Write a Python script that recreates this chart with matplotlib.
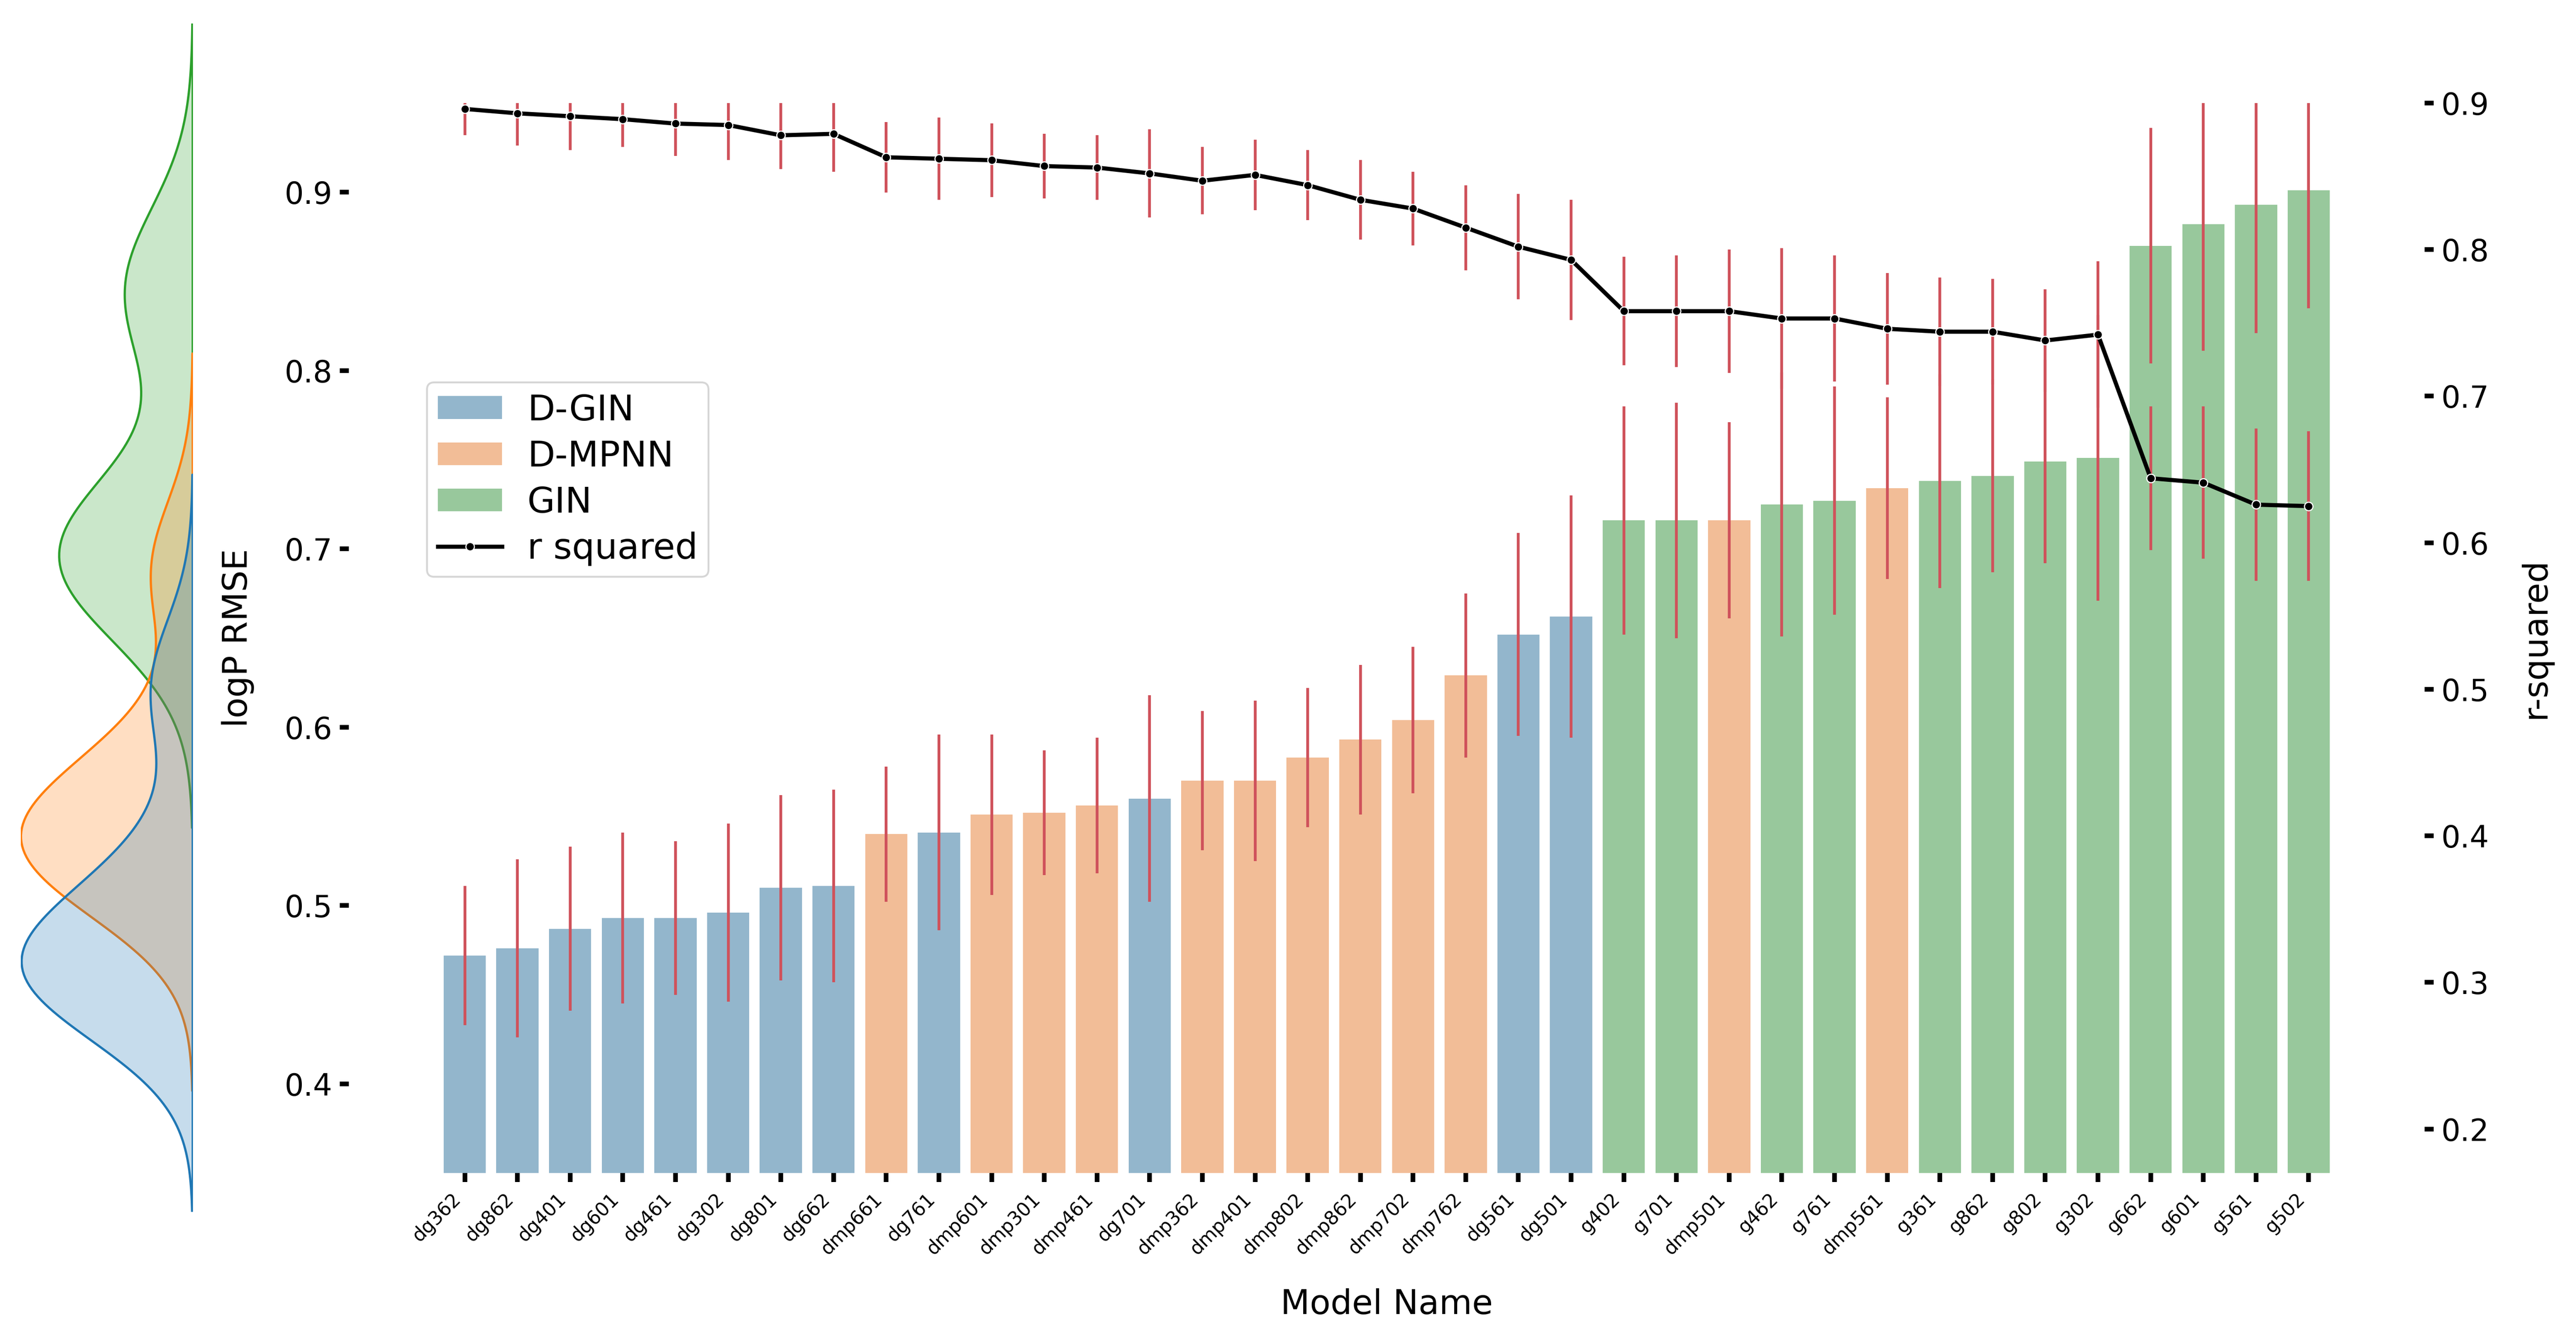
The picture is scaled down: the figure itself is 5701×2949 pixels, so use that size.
import numpy as np
import pandas as pd
import seaborn as sns
import matplotlib
matplotlib.use("Agg")
from matplotlib import pyplot as plt
from matplotlib.patches import Patch
from matplotlib.lines import Line2D

# model names, sorted by logP RMSE
models = ["dg362", "dg862", "dg401", "dg601", "dg461", "dg302", "dg801", "dg662",
          "dmp661", "dg761", "dmp601", "dmp301", "dmp461", "dg701", "dmp362", "dmp401",
          "dmp802", "dmp862", "dmp702", "dmp762", "dg561", "dg501", "g402", "g701",
          "dmp501", "g462", "g761", "dmp561", "g361", "g862", "g802", "g302",
          "g662", "g601", "g561", "g502"]

rmse = [0.472, 0.476, 0.487, 0.493, 0.493, 0.496, 0.510, 0.511,
        0.540, 0.541, 0.551, 0.552, 0.556, 0.560, 0.570, 0.570,
        0.583, 0.593, 0.604, 0.629, 0.652, 0.662, 0.716, 0.716,
        0.716, 0.725, 0.727, 0.734, 0.738, 0.741, 0.749, 0.751,
        0.870, 0.882, 0.893, 0.901]
rmse_err = [0.039, 0.050, 0.046, 0.048, 0.043, 0.050, 0.052, 0.054,
            0.038, 0.055, 0.045, 0.035, 0.038, 0.058, 0.039, 0.045,
            0.039, 0.042, 0.041, 0.046, 0.057, 0.068, 0.064, 0.066,
            0.055, 0.074, 0.064, 0.051, 0.060, 0.054, 0.057, 0.080,
            0.066, 0.071, 0.072, 0.066]

r2 = [0.896, 0.893, 0.891, 0.889, 0.886, 0.885, 0.878, 0.879,
      0.863, 0.862, 0.861, 0.857, 0.856, 0.852, 0.847, 0.851,
      0.844, 0.834, 0.828, 0.815, 0.802, 0.793, 0.758, 0.758,
      0.758, 0.753, 0.753, 0.746, 0.744, 0.744, 0.738, 0.742,
      0.644, 0.641, 0.626, 0.625]
r2_err = [0.018, 0.022, 0.023, 0.019, 0.022, 0.024, 0.023, 0.026,
          0.024, 0.028, 0.025, 0.022, 0.022, 0.030, 0.023, 0.024,
          0.024, 0.027, 0.025, 0.029, 0.036, 0.041, 0.037, 0.038,
          0.042, 0.048, 0.043, 0.038, 0.037, 0.036, 0.035, 0.050,
          0.049, 0.052, 0.052, 0.051]

families = ["D-GIN", "D-MPNN", "GIN"]
prefix = {"dmp": "D-MPNN", "dg": "D-GIN", "g": "GIN"}
bar_colors = {"D-GIN": "#93b6cc", "D-MPNN": "#f2bd97", "GIN": "#98c89c"}
kde_colors = {"D-GIN": "tab:blue", "D-MPNN": "tab:orange", "GIN": "tab:green"}
err_color = "#cf525b"


def family_of(name):
    for p in ("dmp", "dg", "g"):
        if name.startswith(p):
            return prefix[p]


fam = [family_of(m) for m in models]
df = pd.DataFrame({"model": models, "rmse": rmse, "family": fam})
x = np.arange(len(models))

W, H = 5701, 2949
fig = plt.figure(figsize=(W / 300, H / 300), dpi=300)

# main axes: bars (logP RMSE) + twin (r squared)
ax1 = fig.add_axes([772 / W, 1 - 2595 / H, (5366 - 772) / W, (2595 - 228) / H])
ax1.bar(x, rmse, width=0.8, color=[bar_colors[f] for f in fam], zorder=1)
ax1.errorbar(x, rmse, yerr=rmse_err, fmt="none", ecolor=err_color,
             elinewidth=1.5, capsize=0, zorder=2)
ax1.set_xlim(-2.2, 37.2)
ax1.set_ylim(0.35, 0.95)
ax1.set_yticks([0.4, 0.5, 0.6, 0.7, 0.8, 0.9])
ax1.set_xticks(x)
ax1.set_xticklabels(models, rotation=45, ha="right", fontsize=10)
ax1.set_xlabel("Model Name", fontsize=18, labelpad=16)
ax1.set_ylabel("logP RMSE", fontsize=18, labelpad=16)
ax1.tick_params(axis="y", length=4.8, width=2.5, labelsize=16, pad=4)
ax1.tick_params(axis="x", length=4.8, width=2.5, pad=4)

ax2 = ax1.twinx()
ax2.errorbar(x, r2, yerr=r2_err, fmt="none", ecolor=err_color,
             elinewidth=1.5, capsize=0, zorder=2)
ax2.plot(x, r2, color="k", lw=2.2, marker="o", ms=4.5, mfc="k",
         mec="w", mew=0.6, zorder=3)
ax2.set_ylim(0.17, 0.9)
ax2.set_yticks([0.2, 0.3, 0.4, 0.5, 0.6, 0.7, 0.8, 0.9])
ax2.set_ylabel("r-squared", fontsize=18, labelpad=16)
ax2.tick_params(axis="y", length=4.8, width=2.5, labelsize=16, pad=4)

for ax in (ax1, ax2):
    for s in ax.spines.values():
        s.set_visible(False)

handles = [Patch(facecolor=bar_colors[f], label=f) for f in families]
handles.append(Line2D([], [], color="k", lw=2.2, marker="o", ms=4.5,
                      mfc="k", mec="w", mew=0.6, label="r squared"))
ax2.legend(handles=handles, loc="upper left", bbox_to_anchor=(0.0377, 0.739),
           borderaxespad=0, fontsize=19, handlelength=1.8, handleheight=0.6,
           handletextpad=0.7, labelspacing=0.33, borderpad=0.3)

# left: density of RMSE per model family
axk = fig.add_axes([46 / W, 1 - 2680 / H, (426 - 46) / W, (2680 - 52) / H])
sns.kdeplot(data=df, y="rmse", hue="family", hue_order=families,
            palette=kde_colors, fill=True, legend=False, linewidth=1.2, ax=axk)
axk.set_ylim(axk.dataLim.y0, axk.dataLim.y1)
axk.set_xlim(axk.dataLim.x1, 0)
axk.axis("off")

fig.savefig("out.png", dpi=300)
